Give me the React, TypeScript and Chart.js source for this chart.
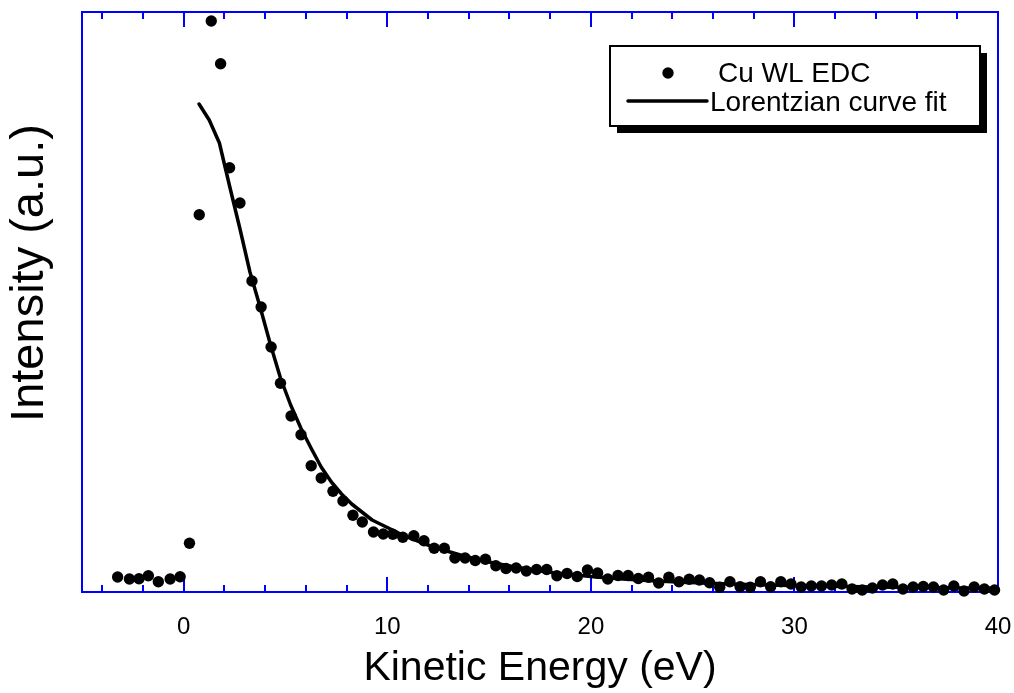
import { useEffect, useRef } from "react";
import { Chart, registerables } from "chart.js";

Chart.register(...registerables);

// Measured Cu WL EDC (kinetic energy in eV, intensity in a.u.)
const energy = [
  -3.25, -2.67, -2.2, -1.74, -1.25, -0.67, -0.18,
  0.28, 0.76, 1.35, 1.81, 2.25, 2.76, 3.35, 3.8, 4.29, 4.75,
  5.27, 5.76, 6.26, 6.75, 7.33, 7.82, 8.31, 8.77, 9.32, 9.8,
  10.27, 10.76, 11.3, 11.8, 12.3, 12.8, 13.32, 13.82, 14.32, 14.82,
  15.33, 15.83, 16.33, 16.83, 17.33, 17.83, 18.33, 18.83, 19.33, 19.83,
  20.33, 20.83, 21.33, 21.83, 22.33, 22.83, 23.33, 23.83, 24.33, 24.83,
  25.33, 25.83, 26.33, 26.83, 27.33, 27.83, 28.33, 28.83, 29.33, 29.83,
  30.33, 30.83, 31.33, 31.83, 32.33, 32.83, 33.33, 33.83, 34.33, 34.83,
  35.33, 35.83, 36.33, 36.83, 37.33, 37.83, 38.33, 38.83, 39.33, 39.83,
];
const edcIntensity = [
  15, 13, 13.3, 16.3, 10.3, 13, 15.3,
  48.7, 377.3, 571, 528.3, 424.3, 389, 311, 285, 245, 208.7,
  176, 157.3, 126.3, 114, 100.7, 91, 76.7, 70, 60, 58,
  57.7, 54.7, 56.3, 51.3, 43.7, 43.7, 34, 34, 31.5, 32.7,
  26.2, 23.5, 24, 21, 22.5, 22.5, 16.2, 18.5, 15.5, 22,
  19, 13, 16.5, 16.5, 13.5, 14.7, 9, 14.7, 10.3, 12.7,
  12, 9.3, 4.7, 10.3, 5.3, 4.7, 10.3, 5.3, 10.3, 8,
  5, 6, 6, 7, 8, 3, 2, 4, 7, 8,
  3, 5, 5.5, 5, 2, 6, 1, 5, 3, 2,
];

// Lorentzian curve fit
const fitEnergy = [
  0.75, 1.25, 1.75, 2.25, 2.75, 3.25, 3.75, 4.25, 4.75,
  5.25, 5.75, 6.25, 6.75, 7.25, 7.75, 8.25, 8.75, 9.25, 9.75,
  10.25, 10.75, 11.25, 11.75, 12.25, 12.75, 13.25, 13.75, 14.25, 14.75,
  15.25, 15.75, 16.25, 16.75, 17.25, 17.75, 18.25, 18.75, 19.25, 19.75,
  20.25, 20.75, 21.25, 21.75, 22.25, 22.75, 23.25, 23.75, 24.25, 24.75,
  25.25, 25.75, 26.25, 26.75, 27.25, 27.75, 28.25, 28.75, 29.25, 29.75,
  30.25, 30.75, 31.25, 31.75, 32.25, 32.75, 33.25, 33.75, 34.25, 34.75,
  35.25, 35.75, 36.25, 36.75, 37.25, 37.75, 38.25, 38.75, 39.25, 39.75,
];
const fitIntensity = [
  488, 472, 449, 406, 364, 320, 285, 248, 214,
  187, 164, 144, 125, 110, 98, 88, 80, 72, 67,
  62, 57, 53, 49, 45, 42, 39, 36, 33.5, 31,
  29, 27, 25, 23.5, 22, 20.5, 19, 18, 17, 16,
  15, 14.2, 13.5, 12.8, 12.2, 11.6, 11, 10.5, 10, 9.6,
  9.2, 8.8, 8.4, 8.1, 7.8, 7.5, 7.2, 7, 6.7, 6.5,
  6.3, 6.1, 5.9, 5.7, 5.5, 5.4, 5.2, 5.1, 5, 4.8,
  4.7, 4.6, 4.5, 4.4, 4.3, 4.2, 4.1, 4, 3.9, 3.8,
];

const xTickLabels = [0, 10, 20, 30, 40];
const xMinorTicks = [-4, -2, 2, 4, 6, 8, 12, 14, 16, 18, 22, 24, 26, 28, 32, 34, 36, 38];
const seriesLabels = ["Cu WL EDC", "Lorentzian curve fit"];
const xTitle = "Kinetic Energy (eV)";
const yTitle = "Intensity (a.u.)";

const FONT = "'Liberation Sans', Arial, Helvetica, sans-serif";
const AXIS_BLUE = "#0000ff";

const framePlugin = {
  id: "originFrame",
  beforeDatasetsDraw(chart: any) {
    const { ctx, chartArea: a, scales } = chart;
    const x = scales.x;
    ctx.save();
    ctx.strokeStyle = AXIS_BLUE;
    ctx.lineWidth = 2;
    ctx.strokeRect(a.left, a.top, a.right - a.left, a.bottom - a.top);
    const drawTick = (v: number, len: number) => {
      const px = Math.round(x.getPixelForValue(v));
      ctx.beginPath();
      ctx.moveTo(px, a.bottom);
      ctx.lineTo(px, a.bottom - len);
      ctx.moveTo(px, a.top);
      ctx.lineTo(px, a.top + len);
      ctx.stroke();
    };
    xTickLabels.forEach((v) => drawTick(v, 15));
    xMinorTicks.forEach((v) => drawTick(v, 7));

    // y-axis title (placed as in the original, slightly above centre)
    ctx.translate(30, 273);
    ctx.rotate(-Math.PI / 2);
    ctx.fillStyle = "#000";
    ctx.font = `47px ${FONT}`;
    ctx.textAlign = "center";
    ctx.textBaseline = "middle";
    ctx.fillText(yTitle, 0, 0);
    ctx.restore();
  },
};

const legendPlugin = {
  id: "originLegend",
  afterDraw(chart: any) {
    const { ctx } = chart;
    const ds = chart.data.datasets;
    const bx = 610, by = 46, bw = 370, bh = 80, sh = 7;
    ctx.save();
    ctx.fillStyle = "#000";
    ctx.fillRect(bx + sh, by + sh, bw, bh);
    ctx.fillStyle = "#fff";
    ctx.fillRect(bx, by, bw, bh);
    ctx.strokeStyle = "#000";
    ctx.lineWidth = 2;
    ctx.strokeRect(bx, by, bw, bh);

    ctx.fillStyle = ds[0].backgroundColor;
    ctx.beginPath();
    ctx.arc(668, 73, ds[0].pointRadius, 0, Math.PI * 2);
    ctx.fill();
    ctx.strokeStyle = ds[1].borderColor;
    ctx.lineWidth = ds[1].borderWidth;
    ctx.lineCap = "round";
    ctx.beginPath();
    ctx.moveTo(628, 101);
    ctx.lineTo(707, 101);
    ctx.stroke();

    ctx.fillStyle = "#000";
    ctx.font = `28px ${FONT}`;
    ctx.textBaseline = "alphabetic";
    ctx.textAlign = "left";
    ctx.fillText(ds[0].label, 718, 82);
    ctx.fillText(ds[1].label, 710, 111);
    ctx.restore();
  },
};

export default function App() {
  const canvasRef = useRef<HTMLCanvasElement | null>(null);

  useEffect(() => {
    document.body.style.margin = "0";
    const canvas = canvasRef.current;
    if (!canvas) return;
    Chart.defaults.font.family = FONT;

    const chart = new Chart(canvas, {
      type: "scatter",
      data: {
        datasets: [
          {
            label: seriesLabels[0],
            data: energy.map((e, i) => ({ x: e, y: edcIntensity[i] })),
            backgroundColor: "#000",
            borderColor: "#000",
            borderWidth: 0,
            pointRadius: 5.7,
            pointHoverRadius: 5.7,
            showLine: false,
            clip: false,
            order: 0,
          },
          {
            label: seriesLabels[1],
            data: fitEnergy.map((e, i) => ({ x: e, y: fitIntensity[i] })),
            backgroundColor: "#000",
            borderColor: "#000",
            borderWidth: 3.5,
            borderCapStyle: "round",
            borderJoinStyle: "round",
            pointRadius: 0,
            showLine: true,
            tension: 0,
            clip: false,
            order: 1,
          },
        ] as any,
      },
      options: {
        animation: false,
        responsive: false,
        devicePixelRatio: 1,
        events: [],
        layout: { padding: { top: 12, right: 16, bottom: 0, left: 0 } },
        plugins: {
          legend: { display: false },
          tooltip: { enabled: false },
        },
        scales: {
          x: {
            type: "linear",
            min: -5,
            max: 40,
            afterBuildTicks: (s: any) => {
              s.ticks = xTickLabels.map((v) => ({ value: v }));
            },
            afterFit: (s: any) => {
              s.height = 101;
              s.paddingLeft = 0;
              s.paddingRight = 0;
            },
            grid: { display: false, drawTicks: false },
            border: { display: false },
            ticks: {
              color: "#000",
              font: { size: 24 },
              padding: 21,
              maxRotation: 0,
              autoSkip: false,
            },
            title: {
              display: true,
              text: xTitle,
              color: "#000",
              font: { size: 41 },
              padding: { top: 0, bottom: 0 },
            },
          },
          y: {
            type: "linear",
            min: 0,
            max: 580,
            afterFit: (s: any) => {
              s.width = 82;
              s.paddingTop = 0;
              s.paddingBottom = 0;
            },
            grid: { display: false, drawTicks: false },
            border: { display: false },
            ticks: { display: false },
            title: { display: false },
          },
        },
      } as any,
      plugins: [framePlugin, legendPlugin],
    });

    return () => chart.destroy();
  }, []);

  return (
    <div style={{ width: 1014, height: 693, background: "#fff" }}>
      <canvas ref={canvasRef} width={1014} height={693} style={{ display: "block" }} />
    </div>
  );
}
